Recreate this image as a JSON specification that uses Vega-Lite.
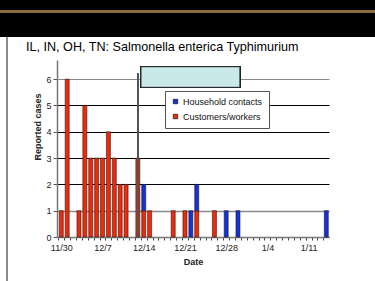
{
  "$schema": "https://vega.github.io/schema/vega-lite/v6.json",
  "width": 272,
  "height": 177,
  "autosize": {"type": "none"},
  "padding": {"left": 57, "top": 60, "right": 46, "bottom": 44},
  "background": "white",
  "config": {"font": "Liberation Sans", "view": {"stroke": null}, "axisY": {"tickCount": 7}},
  "title": {
    "text": "IL, IN, OH, TN: Salmonella enterica Typhimurium",
    "anchor": "start",
    "frame": "group",
    "dx": -31,
    "dy": 65,
    "offset": 0,
    "baseline": "alphabetic",
    "fontSize": 12.6,
    "fontWeight": "normal",
    "color": "black"
  },
  "data": {
    "values": [
      {"date": "2003-11-30", "group": "Customers/workers", "cases": 1},
      {"date": "2003-12-01", "group": "Customers/workers", "cases": 6},
      {"date": "2003-12-03", "group": "Customers/workers", "cases": 1},
      {"date": "2003-12-04", "group": "Customers/workers", "cases": 5},
      {"date": "2003-12-05", "group": "Customers/workers", "cases": 3},
      {"date": "2003-12-06", "group": "Customers/workers", "cases": 3},
      {"date": "2003-12-07", "group": "Customers/workers", "cases": 3},
      {"date": "2003-12-08", "group": "Customers/workers", "cases": 4},
      {"date": "2003-12-09", "group": "Customers/workers", "cases": 3},
      {"date": "2003-12-10", "group": "Customers/workers", "cases": 2},
      {"date": "2003-12-11", "group": "Customers/workers", "cases": 2},
      {"date": "2003-12-13", "group": "Customers/workers", "cases": 3},
      {"date": "2003-12-14", "group": "Customers/workers", "cases": 1},
      {"date": "2003-12-15", "group": "Customers/workers", "cases": 1},
      {"date": "2003-12-19", "group": "Customers/workers", "cases": 1},
      {"date": "2003-12-21", "group": "Customers/workers", "cases": 1},
      {"date": "2003-12-23", "group": "Customers/workers", "cases": 1},
      {"date": "2003-12-26", "group": "Customers/workers", "cases": 1},
      {"date": "2003-12-14", "group": "Household contacts", "cases": 1},
      {"date": "2003-12-22", "group": "Household contacts", "cases": 1},
      {"date": "2003-12-23", "group": "Household contacts", "cases": 1},
      {"date": "2003-12-28", "group": "Household contacts", "cases": 1},
      {"date": "2003-12-30", "group": "Household contacts", "cases": 1},
      {"date": "2004-01-14", "group": "Household contacts", "cases": 1}
    ]
  },
  "layer": [
    {
      "mark": {"type": "bar", "width": 4, "stroke": "#2a1a1a", "strokeWidth": 0.6},
      "encoding": {
        "x": {
          "field": "date", "type": "temporal",
          "scale": {"type": "utc", "nice": false, "padding": 0, "domain": [{"year": 2003, "month": 11, "date": 29, "hours": 6, "minutes": 30, "utc": true}, {"year": 2004, "month": 1, "date": 14, "hours": 11, "utc": true}]},
          "axis": {
            "title": "Date", "titleFontSize": 9, "titleFontWeight": "bold", "titleColor": "#222", "titlePadding": 5,
            "labelFontSize": 9, "labelColor": "#222", "labelPadding": 3,
            "tickCount": {"interval": "day", "step": 1},
            "tickSize": 3, "tickColor": "#444", "tickOffset": -2.95, "labelOffset": 2.95,
            "domainColor": "#777", "domainWidth": 1.5,
            "grid": false, "labelOverlap": false, "labelFlush": false, "labelBound": false,
            "labelExpr": "(datum.value - utc(2003,10,30)) % 604800000 === 0 ? utcFormat(datum.value, '%-m/%-d') : ''"
          }
        },
        "y": {
          "field": "cases", "type": "quantitative", "stack": "zero",
          "scale": {"domain": [0, 6.73], "nice": false},
          "axis": {
            "title": "Reported cases", "titleFontSize": 9, "titleFontWeight": "bold", "titleColor": "#222",
            "titleX": -19.5, "titleY": 66.5, "titleAngle": -90, "titleAlign": "center", "titleBaseline": "middle",
            "values": [0, 1, 2, 3, 4, 5, 6], "tickCount": 7, "format": "d",
            "labelFontSize": 9, "labelColor": "#222", "labelPadding": 2, "labelOverlap": false,
            "tickSize": 4, "tickColor": "#555", "domainColor": "#777", "domainWidth": 1.5,
            "grid": true,
            "gridColor": {"condition": {"test": "datum.value === 1 || datum.value === 6", "value": "#8a8a8a"}, "value": "#000000"},
            "gridWidth": {"condition": {"test": "datum.value === 1", "value": 1.6}, "value": 1}
          }
        },
        "color": {
          "field": "group", "type": "nominal",
          "scale": {"domain": ["Household contacts", "Customers/workers"], "range": ["#1232dc", "#ee2a08"]},
          "legend": {
            "orient": "none", "legendX": 108, "legendY": 31, "title": null,
            "padding": 6, "rowPadding": 5, "fillColor": "white", "strokeColor": "#555",
            "labelFontSize": 9, "labelColor": "#111", "labelOffset": 3,
            "symbolType": "square", "symbolSize": 20, "symbolStrokeColor": "#000", "symbolStrokeWidth": 0.6, "symbolOpacity": 1
          }
        },
        "order": {"field": "group", "sort": "ascending"}
      }
    },
    {
      "mark": {"type": "rect", "color": "black", "clip": false},
      "encoding": {
        "x": {"datum": {"year": 2003, "month": 11, "date": 10, "utc": true}, "type": "temporal"},
        "x2": {"datum": {"year": 2004, "month": 2, "date": 20, "utc": true}},
        "y": {"datum": 7.605, "type": "quantitative"},
        "y2": {"datum": 9.05}
      }
    },
    {
      "mark": {"type": "rule", "color": "#8a6f3e", "strokeWidth": 1.6, "clip": false},
      "encoding": {
        "x": {"datum": {"year": 2003, "month": 11, "date": 10, "utc": true}, "type": "temporal"},
        "x2": {"datum": {"year": 2004, "month": 2, "date": 20, "utc": true}},
        "y": {"datum": 8.57, "type": "quantitative"}
      }
    },
    {
      "mark": {"type": "rule", "color": "#8c8c8c", "strokeWidth": 1.5, "clip": false},
      "encoding": {
        "x": {"datum": {"year": 2003, "month": 11, "date": 20, "hours": 18, "minutes": 45, "utc": true}, "type": "temporal"},
        "y": {"datum": 7.605, "type": "quantitative"},
        "y2": {"datum": -2}
      }
    },
    {
      "mark": {"type": "rule", "color": "#555555", "strokeWidth": 1.5},
      "encoding": {
        "x": {"datum": {"year": 2003, "month": 12, "date": 13, "utc": true}, "type": "temporal"},
        "y": {"datum": 0, "type": "quantitative"},
        "y2": {"datum": 6.24}
      }
    },
    {
      "mark": {"type": "rect", "fill": "#c8e8ea", "stroke": "#222222", "strokeWidth": 1},
      "encoding": {
        "x": {"datum": {"year": 2003, "month": 12, "date": 13, "hours": 12, "minutes": 45, "utc": true}, "type": "temporal"},
        "x2": {"datum": {"year": 2003, "month": 12, "date": 30, "hours": 8, "utc": true}},
        "y": {"datum": 6.475, "type": "quantitative"},
        "y2": {"datum": 5.69}
      }
    }
  ]
}
